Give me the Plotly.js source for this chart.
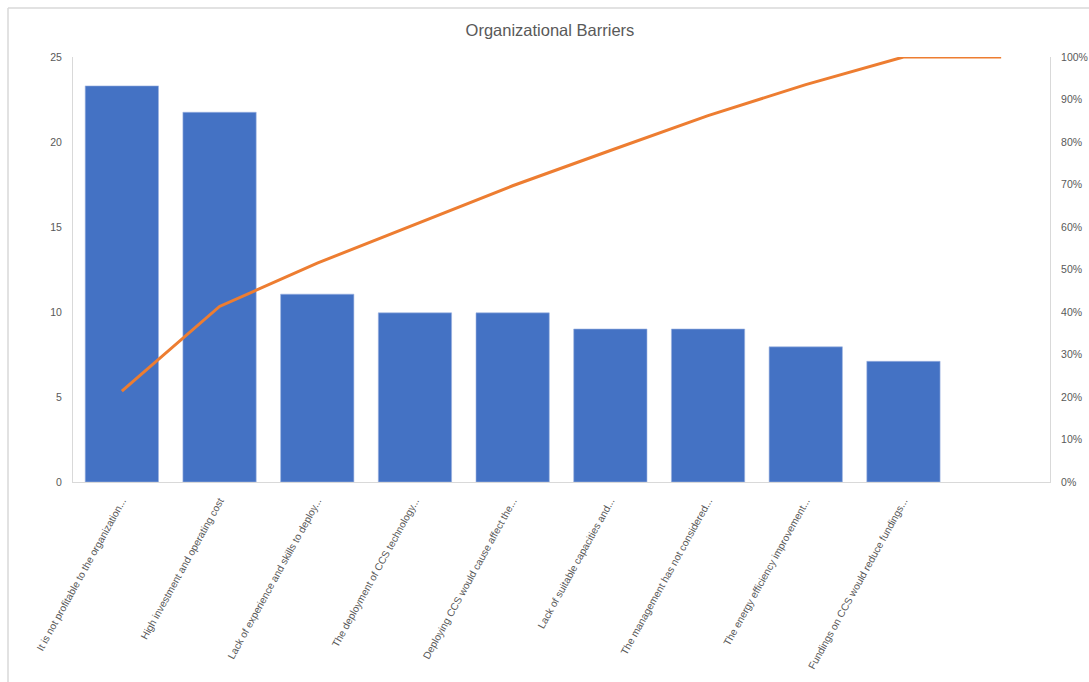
<!DOCTYPE html>
<html>
<head>
<meta charset="utf-8">
<script src="https://cdn.plot.ly/plotly-3.0.1.min.js"></script>
<style>html,body{margin:0;padding:0;background:#fff;}#chart{width:1089px;height:682px;}</style>
</head>
<body>
<div id="chart"></div>
<script>
const categories = [
  "It is not profitable to the organization...",
  "High investment and operating cost",
  "Lack of experience and skills to deploy...",
  "The deployment of CCS technology...",
  "Deploying CCS would cause affect the...",
  "Lack of suitable capacities and...",
  "The management has not considered...",
  "The energy efficiency improvement...",
  "Fundings on CCS would reduce fundings...",
  " "
];
const barValues = [23.3, 21.75, 11.05, 9.95, 9.95, 9.0, 9.0, 7.95, 7.1, null];
const cumulativePct = [21.4, 41.3, 51.5, 60.6, 69.7, 78.0, 86.2, 93.5, 100, 100];
const leftTicks = [0, 5, 10, 15, 20, 25];
const rightTicks = [0, 10, 20, 30, 40, 50, 60, 70, 80, 90, 100];

const font = "Liberation Sans, Arial, sans-serif";
const grey = "#595959";
const axisGrey = "#d9d9d9";

const traces = [
  {
    type: "bar",
    x: categories,
    y: barValues,
    marker: {color: "#4472C4", line: {color: "#9DB3E0", width: 0.6}},
    width: 0.75,
    hoverinfo: "x+y",
    showlegend: false
  },
  {
    type: "scatter",
    mode: "lines",
    x: categories,
    y: cumulativePct,
    yaxis: "y2",
    line: {color: "#ED7D31", width: 3},
    showlegend: false
  }
];

const layout = {
  width: 1089,
  height: 682,
  margin: {l: 73, r: 39, t: 57, b: 200, autoexpand: false},
  paper_bgcolor: "#ffffff",
  plot_bgcolor: "#ffffff",
  font: {family: font, color: grey, size: 11},
  title: {
    text: "Organizational Barriers",
    font: {family: font, size: 16.5, color: grey},
    x: 0.505, xref: "container", xanchor: "center",
    y: 1 - 30/682, yref: "container", yanchor: "middle"
  },
  bargap: 0.25,
  xaxis: {
    type: "category",
    tickangle: -61,
    tickfont: {family: font, size: 10.2, color: grey},
    showline: true,
    linecolor: axisGrey,
    linewidth: 1,
    ticks: "",
    showgrid: false,
    range: [-0.5, 9.5],
    ticklabelstandoff: 8,
    fixedrange: true
  },
  yaxis: {
    range: [0, 25],
    tickvals: leftTicks,
    ticktext: leftTicks.map(String),
    tickfont: {family: font, size: 10.5, color: grey},
    showline: true,
    linecolor: axisGrey,
    linewidth: 1,
    showgrid: false,
    zeroline: false,
    ticks: "",
    ticklen: 0,
    ticklabelstandoff: 8
  },
  yaxis2: {
    overlaying: "y",
    side: "right",
    range: [0, 100],
    tickvals: rightTicks,
    ticktext: rightTicks.map(v => v + "%"),
    tickfont: {family: font, size: 10.5, color: grey},
    showline: true,
    linecolor: axisGrey,
    linewidth: 1,
    showgrid: false,
    zeroline: false,
    ticks: "",
    ticklabelstandoff: 8
  },
  shapes: [
    {type: "line", xref: "paper", yref: "paper",
     x0: (8 - 73) / 977, x1: 1.1, y0: 1 + (57 - 8) / 425, y1: 1 + (57 - 8) / 425,
     line: {color: axisGrey, width: 1.5}},
    {type: "line", xref: "paper", yref: "paper",
     x0: (8 - 73) / 977, x1: (8 - 73) / 977, y0: 1 + (57 - 8) / 425, y1: -0.5,
     line: {color: axisGrey, width: 1.5}}
  ]
};

Plotly.newPlot("chart", traces, layout, {displayModeBar: false, staticPlot: true});
</script>
</body>
</html>
